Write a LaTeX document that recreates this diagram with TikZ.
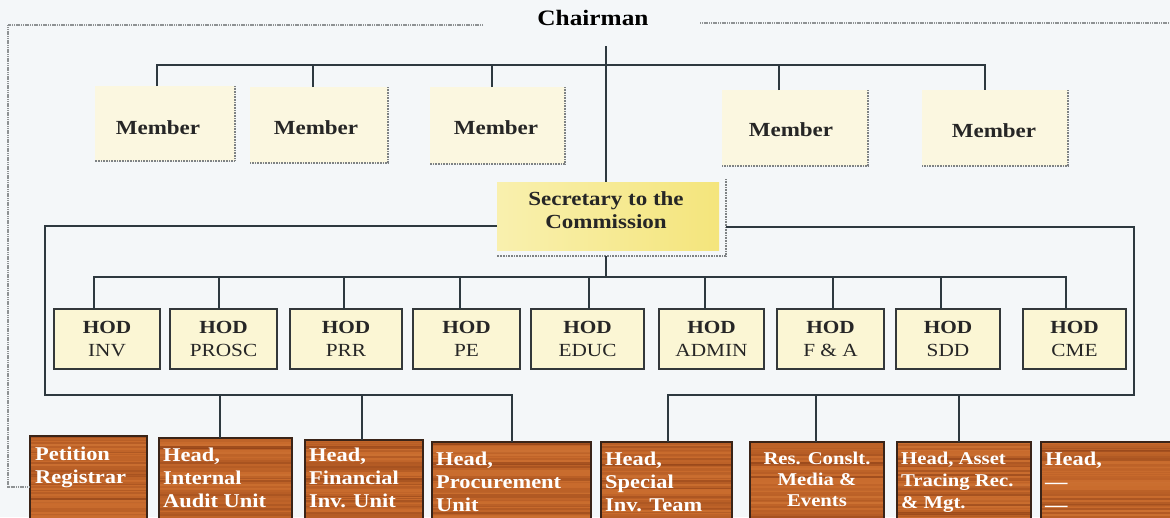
\documentclass[tikz,border=0pt]{standalone}
\usepackage{fontspec}
\setmainfont{Liberation Serif}[FakeStretch=1.15]
\usetikzlibrary{calc}
\definecolor{bgc}{HTML}{F4F7F9}
\definecolor{linec}{HTML}{2E3940}
\definecolor{frc}{HTML}{8E9294}
\definecolor{shc}{HTML}{7E8284}
\definecolor{memfill}{HTML}{FBF7E0}
\definecolor{secfillL}{HTML}{F9F0AE}
\definecolor{secfillR}{HTML}{F4E57C}
\definecolor{hodfill}{HTML}{FBF6D4}
\definecolor{hodline}{HTML}{33383A}
\definecolor{wood}{HTML}{C86A2C}
\definecolor{woodD}{HTML}{6E2A0C}
\definecolor{woodL}{HTML}{E39A58}
\definecolor{woodline}{HTML}{3A2418}
\newcommand\obox[6]{\node[#1, minimum width={#4-#2}, minimum height={#5-#3}] (#6) at (#2,#3) {};}
\begin{document}
\begin{tikzpicture}[x=1pt,y=-1pt,
  conn/.style={draw=linec, line width=1.3pt},
  frameline/.style={draw=frc, line width=1.5pt, dash pattern=on 1.2pt off 0.6pt},
  shadowline/.style={draw=shc, line width=1.3pt, dash pattern=on 1pt off 0.6pt},
  basebox/.style={inner sep=0pt, outer sep=0pt, anchor=north west},
  memberbox/.style={basebox, fill=memfill},
  secbox/.style={basebox, left color=secfillL, right color=secfillR},
  hodbox/.style={basebox, fill=hodfill, draw=hodline, line width=1.2pt},
  woodbox/.style={basebox, fill=wood, draw=woodline, line width=1.2pt,
    path picture={
      \foreach \i in {0,...,45}{
        \pgfmathsetmacro\op{0.08+0.45*rnd*rnd}
        \pgfmathsetmacro\wh{rnd}
        \pgfmathsetmacro\hh{1.2+1.6*rnd}
        \ifdim\wh pt<0.7pt
          \fill[woodD, opacity=\op] ([yshift={-2*\i}]path picture bounding box.north west) rectangle ([yshift={-2*\i-\hh}]path picture bounding box.north east);
        \else
          \fill[woodL, opacity=0.35*\op] ([yshift={-2*\i}]path picture bounding box.north west) rectangle ([yshift={-2*\i-\hh}]path picture bounding box.north east);
        \fi
      }
    }},
  titletext/.style={font=\fontsize{22}{24}\selectfont\bfseries, text=black, inner sep=0pt},
  memtext/.style={font=\fontsize{20}{22}\selectfont\bfseries, text=black!85, inner sep=0pt},
  sectext/.style={font=\fontsize{20}{23}\selectfont\bfseries, text=black!85, align=center, inner sep=0pt},
  hodtext/.style={font=\fontsize{18.5}{23}\selectfont, text=black!85, align=center, inner sep=0pt},
  woodtext/.style={font=\fontsize{19.5}{23}\selectfont\bfseries, text=white, align=left, inner sep=0pt, anchor=north west},
]
\pgfmathsetseed{11}
\fill[bgc] (0,0) rectangle (1170,517);
\useasboundingbox (0,0) rectangle (1170,517);

% Chairman
\node[titletext] (chair) at (593,18) {Chairman};
\coordinate (frL) at (483,25);
\coordinate (frLc) at (8,25);
\coordinate (frR) at (700,23);
\coordinate (frRe) at (1170,23);

% Members
\obox{memberbox}{95}{86}{235}{161}{m1}
\obox{memberbox}{250}{87}{388}{163}{m2}
\obox{memberbox}{430}{87}{565}{164}{m3}
\obox{memberbox}{722}{90}{868}{166}{m4}
\obox{memberbox}{922}{90}{1068}{166}{m5}
\foreach \m in {m1,m2,m3,m4,m5}{
  \draw[shadowline] (\m.north east) -- (\m.south east) -- (\m.south west);
}
\node[memtext] (mt1) at (158,128) {Member};
\node[memtext] (mt2) at (316,128) {Member};
\node[memtext] (mt3) at (496,128) {Member};
\node[memtext] (mt4) at (791,130) {Member};
\node[memtext] (mt5) at (994,131) {Member};

% Secretary
\obox{secbox}{497}{182}{719}{250}{sec}
\draw[shadowline] ([xshift=7pt,yshift=3pt]sec.north east) -- ([shift={(7pt,-6pt)}]sec.south east) -- ([yshift=-6pt]sec.south west);
\node[sectext] (sect) at (606,210) {Secretary to the\\Commission};

% HODs
\obox{hodbox}{54}{309}{160}{369}{h1}
\obox{hodbox}{170}{309}{277}{369}{h2}
\obox{hodbox}{290}{309}{402}{369}{h3}
\obox{hodbox}{413}{309}{520}{369}{h4}
\obox{hodbox}{531}{309}{644}{369}{h5}
\obox{hodbox}{659}{309}{764}{369}{h6}
\obox{hodbox}{777}{309}{884}{369}{h7}
\obox{hodbox}{896}{309}{1000}{369}{h8}
\obox{hodbox}{1023}{309}{1126}{369}{h9}
\foreach \h/\t in {h1/INV,h2/PROSC,h3/PRR,h4/PE,h5/EDUC,h6/ADMIN,h7/F \& A,h8/SDD,h9/CME}{
  \node[hodtext] (\h t) at (\h.center) {{\bfseries HOD}\\\t};
}

% Bottom wood boxes
\obox{woodbox}{30}{436}{147}{530}{b1}
\obox{woodbox}{159}{438}{292}{530}{b2}
\obox{woodbox}{305}{440}{423}{530}{b3}
\obox{woodbox}{432}{442}{591}{530}{b4}
\obox{woodbox}{601}{442}{732}{530}{b5}
\obox{woodbox}{750}{442}{884}{530}{b6}
\obox{woodbox}{897}{442}{1031}{530}{b7}
\obox{woodbox}{1041}{442}{1190}{530}{b8}
\node[woodtext] (t1) at ([shift={(5pt,-11pt)}]b1.north west) {Petition\\Registrar};
\node[woodtext] (t2) at ([shift={(4pt,-10pt)}]b2.north west) {Head,\\Internal\\Audit Unit};
\node[woodtext] (t3) at ([shift={(4pt,-8pt)}]b3.north west) {Head,\\Financial\\Inv. Unit};
\node[woodtext] (t4) at ([shift={(4pt,-10pt)}]b4.north west) {Head,\\Procurement\\Unit};
\node[woodtext] (t5) at ([shift={(4pt,-10pt)}]b5.north west) {Head,\\Special\\Inv. Team};
\node[woodtext, anchor=north, align=center, font=\fontsize{18}{21}\selectfont\bfseries] (t6) at ([yshift=-10pt]b6.north) {Res. Conslt.\\Media \&\\Events};
\node[woodtext, font=\fontsize{18}{22}\selectfont\bfseries] (t7) at ([shift={(4pt,-10pt)}]b7.north west) {Head, Asset\\Tracing Rec.\\\& Mgt.};
\node[woodtext] (t8) at ([shift={(4pt,-10pt)}]b8.north west) {Head,\\\textemdash\\\textemdash};

% Frame lines
\draw[frameline] (frL) -- (frLc) |- ([yshift=-4pt]b1.west);
\draw[frameline] (frR) -- (frRe);

% Connectors
\coordinate (tb) at (0,65);
\coordinate (cv) at (606,46);
\coordinate (hb) at (0,277);
\coordinate (lb) at (45,395);
\coordinate (rb) at (1134,395);
\draw[conn] ([xshift=-8pt]m1.north) -- ([xshift=-8pt]m1.north |- tb) -- ([xshift=-10pt]m5.north |- tb) -- ([xshift=-10pt]m5.north);
\draw[conn] ([xshift=-6pt]m2.north) -- ([xshift=-6pt]m2.north |- tb);
\draw[conn] ([xshift=-5.5pt]m3.north) -- ([xshift=-5.5pt]m3.north |- tb);
\draw[conn] ([xshift=-16pt]m4.north) -- ([xshift=-16pt]m4.north |- tb);
\draw[conn] (cv) -- (cv |- sec.north);
% secretary to HODs
\draw[conn] ([xshift=-2pt,yshift=-6pt]sec.south) -- ([xshift=-2pt]sec.south |- hb);
\draw[conn] ([xshift=-13pt]h1.north) -- ([xshift=-13pt]h1.north |- hb) -- ([xshift=-8.5pt]h9.north |- hb) -- ([xshift=-8.5pt]h9.north);
\foreach \h/\s in {h2/-4.5,h3/-2,h4/-6.5,h5/1.5,h6/-6.5,h7/2.5,h8/-7}{
  \draw[conn] ([xshift=\s pt]\h.north) -- ([xshift=\s pt]\h.north |- hb);
}
% left branch
\draw[conn] ([yshift=-10pt]sec.west) -| (lb) -| ([xshift=0.5pt]b4.north);
\draw[conn] ([xshift=-5.5pt]b2.north) -- ([xshift=-5.5pt]b2.north |- lb);
\draw[conn] ([xshift=-2pt]b3.north) -- ([xshift=-2pt]b3.north |- lb);
% right branch
\draw[conn] ([shift={(7pt,-11pt)}]sec.east) -| (rb) -| ([xshift=1.5pt]b5.north);
\draw[conn] ([xshift=-1pt]b6.north) -- ([xshift=-1pt]b6.north |- rb);
\draw[conn] ([xshift=-5pt]b7.north) -- ([xshift=-5pt]b7.north |- rb);
\end{tikzpicture}
\end{document}
